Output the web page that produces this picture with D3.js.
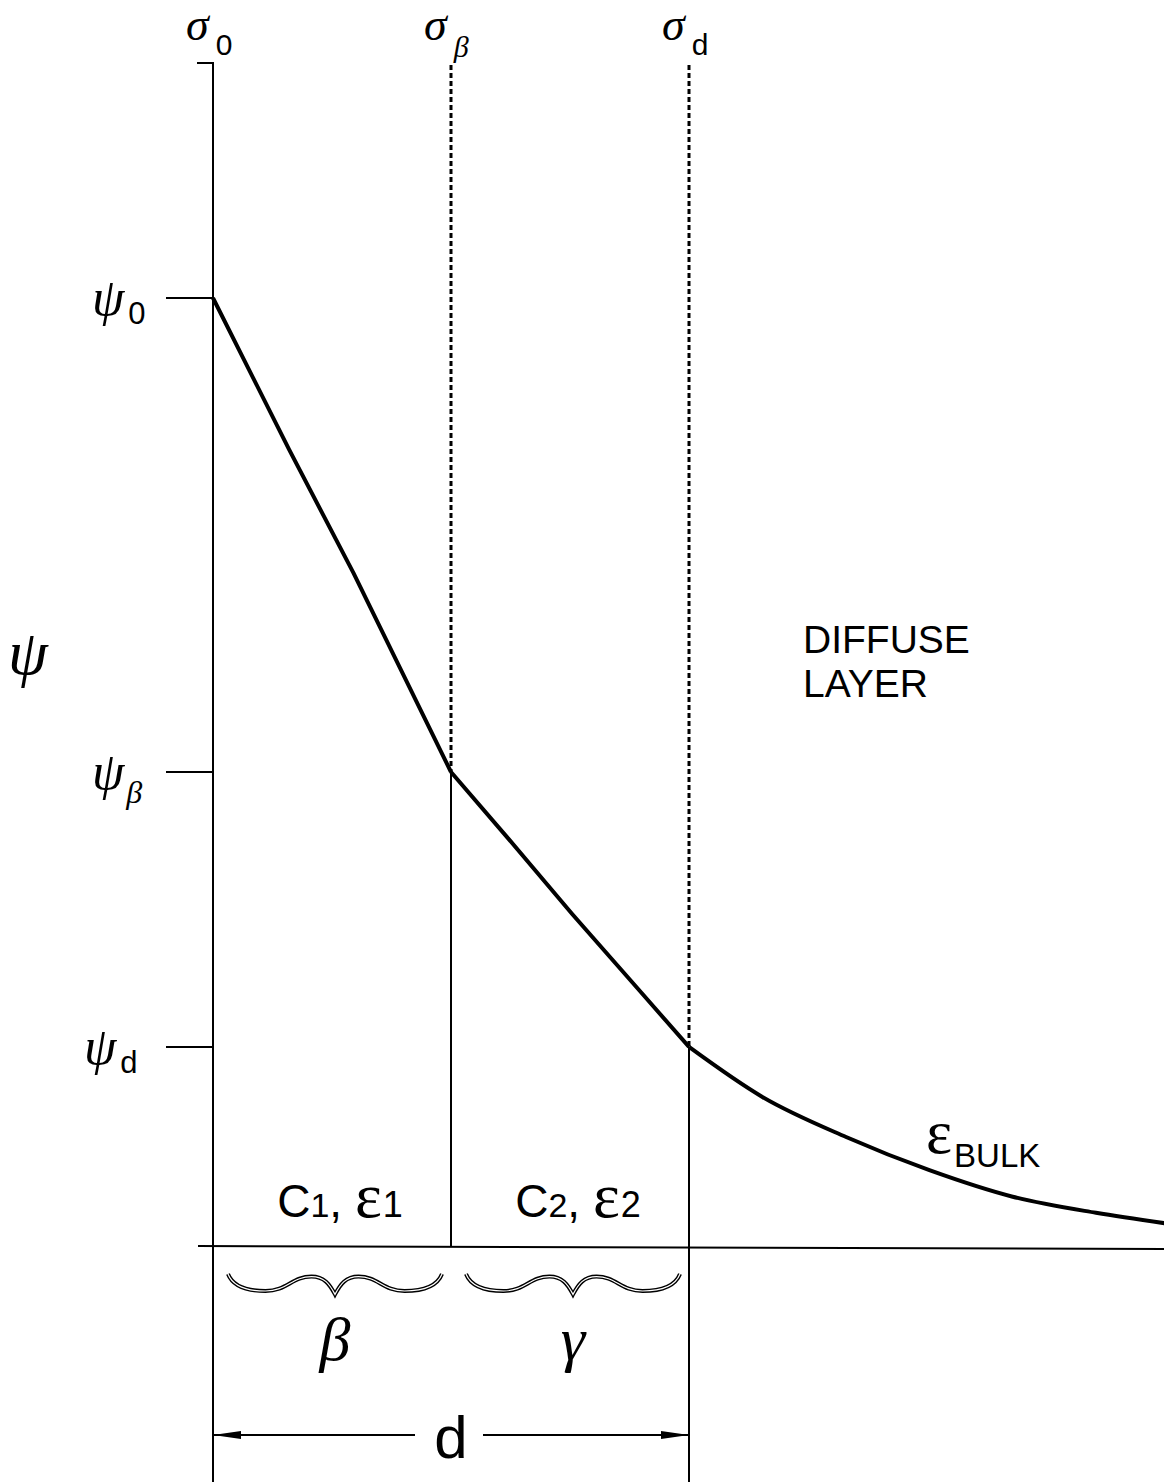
<!DOCTYPE html>
<html><head><meta charset="utf-8">
<style>body{margin:0;background:#fff}</style>
</head><body>
<div id="container"></div>
<script src="https://d3js.org/d3.v7.min.js"></script>
<script>
// charge planes: name, distance from surface, potential
var planeNames = ["0", "β", "d"];
var planePos = [0, 1, 2];
var planePsi = [1.0, 0.50, 0.21];

// potential profile, one list per region
var innerDist = [0, 0.32, 0.59, 1.0];
var innerPsi = [1.0, 0.84, 0.71, 0.50];
var outerDist = [1.0, 1.24, 1.51, 1.79, 2.0];
var outerPsi = [0.50, 0.43, 0.35, 0.27, 0.21];
var diffuseDist = [2.0, 2.31, 2.66, 3.01, 3.36, 3.71, 4.0];
var diffusePsi = [0.21, 0.157, 0.115, 0.080, 0.052, 0.035, 0.024];

// labels of the two compact layers
var layerC = ["C", "C"];
var layerSub = ["1", "2"];
var braceLabels = ["β", "γ"];

var W = 1164, H = 1482;
var greek = "'Liberation Serif', 'Times New Roman', serif";
var sans = "'Liberation Sans', Arial, sans-serif";

var svg = d3.select("#container").append("svg")
  .attr("width", W).attr("height", H)
  .style("display", "block");

var x = d3.scaleLinear().domain([0, 4]).range([213, 1165]);
var y = d3.scaleLinear().domain([0, 1]).range([1246, 298]);

var yTop = 63, yBottom = H;

// left surface line + small hook at top
svg.append("path")
  .attr("d", "M" + (x(0) - 16) + "," + yTop + "H" + x(0) + "V" + yBottom)
  .attr("fill", "none").attr("stroke", "#000").attr("stroke-width", 2);

// dashed part of the planes above the curve
svg.selectAll(".dash").data(planePos.slice(1)).enter().append("line")
  .attr("x1", function(d) { return x(d); })
  .attr("x2", function(d) { return x(d); })
  .attr("y1", yTop + 2)
  .attr("y2", function(d, i) { return y(planePsi[i + 1]); })
  .attr("stroke", "#000").attr("stroke-width", 3)
  .attr("stroke-dasharray", "5,3");

// solid part below the curve
svg.append("line")
  .attr("x1", x(planePos[1])).attr("x2", x(planePos[1]))
  .attr("y1", y(planePsi[1])).attr("y2", y(0))
  .attr("stroke", "#000").attr("stroke-width", 2);
svg.append("line")
  .attr("x1", x(planePos[2])).attr("x2", x(planePos[2]))
  .attr("y1", y(planePsi[2])).attr("y2", yBottom)
  .attr("stroke", "#000").attr("stroke-width", 2);

// baseline (psi = 0)
svg.append("line")
  .attr("x1", 198).attr("x2", W)
  .attr("y1", y(0)).attr("y2", y(0) + 3)
  .attr("stroke", "#000").attr("stroke-width", 2);

// psi ticks
svg.selectAll(".tick").data(planePsi).enter().append("line")
  .attr("x1", x(0) - 47).attr("x2", x(0))
  .attr("y1", function(d) { return y(d); })
  .attr("y2", function(d) { return y(d); })
  .attr("stroke", "#000").attr("stroke-width", 2);

// psi labels
planePsi.forEach(function(p, i) {
  var t = svg.append("text")
    .attr("x", i == 2 ? 84 : 92).attr("y", y(p) + 17)
    .style("font-family", greek).style("font-style", "italic")
    .style("font-size", "52px").text("ψ");
  var s = t.append("tspan").attr("dx", i == 1 ? 2 : 4).attr("dy", i == 1 ? 14 : 9)
    .style("font-size", i == 1 ? "32px" : "31px")
    .text(planeNames[i]);
  if (i != 1) s.style("font-family", sans).style("font-style", "normal");
});

// sigma labels on top
planePos.forEach(function(p, i) {
  var t = svg.append("text")
    .attr("x", x(p) - 27).attr("y", 40)
    .style("font-family", greek).style("font-style", "italic")
    .style("font-size", "46px").text("σ");
  var s = t.append("tspan").attr("dx", 7).attr("dy", i == 1 ? 17 : 15)
    .style("font-size", "30px").text(planeNames[i]);
  if (i != 1) s.style("font-family", sans).style("font-style", "normal");
});

// big psi axis label
svg.append("text").attr("x", 8).attr("y", 674)
  .style("font-family", greek).style("font-style", "italic")
  .style("font-size", "64px").text("ψ");

// potential profile
var straight = d3.line()
  .x(function(d) { return x(d[0]); })
  .y(function(d) { return y(d[1]); });
var smooth = d3.line()
  .x(function(d) { return x(d[0]); })
  .y(function(d) { return y(d[1]); })
  .curve(d3.curveMonotoneX);
[[innerDist, innerPsi, straight], [outerDist, outerPsi, straight], [diffuseDist, diffusePsi, smooth]].forEach(function(s) {
  svg.append("path")
    .datum(d3.zip(s[0], s[1]))
    .attr("d", s[2])
    .attr("fill", "none").attr("stroke", "#000").attr("stroke-width", 4)
    .attr("stroke-linejoin", "round");
});

// diffuse layer labels
svg.append("text").attr("x", 803).attr("y", 653)
  .style("font-family", sans).style("font-size", "39px").text("DIFFUSE");
svg.append("text").attr("x", 803).attr("y", 697)
  .style("font-family", sans).style("font-size", "39px").text("LAYER");
var eb = svg.append("text").attr("x", 926).attr("y", 1153)
  .style("font-family", greek).style("font-size", "62px").text("ε");
eb.append("tspan").attr("dx", 2).attr("dy", 14)
  .style("font-family", sans).style("font-size", "33px").text("BULK");

// compact layer labels
layerC.forEach(function(c, i) {
  var cx = (x(planePos[i]) + x(planePos[i + 1])) / 2 + 8;
  var t = svg.append("text").attr("x", cx).attr("y", 1217)
    .attr("text-anchor", "middle")
    .style("font-family", sans).style("font-size", "46px");
  t.append("tspan").text(c);
  t.append("tspan").style("font-size", "34px").text(layerSub[i]);
  t.append("tspan").text(", ");
  t.append("tspan").style("font-family", greek).style("font-size", "64px").text("ε");
  t.append("tspan").style("font-size", "36px").attr("dx", 1).text(layerSub[i]);
});

// braces under each compact layer
function brace(x0, x1, y0, D) {
  var h = (x1 - x0) / 2, xm = x0 + h;
  var p = "M" + x0 + "," + y0;
  p += "C" + (x0 + 0.05 * h) + "," + (y0 + 0.8 * D) + " " + (x0 + 0.2 * h) + "," + (y0 + D) + " " + (x0 + 0.35 * h) + "," + (y0 + D);
  p += "C" + (x0 + 0.55 * h) + "," + (y0 + D) + " " + (x0 + 0.6 * h) + "," + (y0 + 0.15 * D) + " " + (x0 + 0.78 * h) + "," + (y0 + 0.15 * D);
  p += "C" + (x0 + 0.9 * h) + "," + (y0 + 0.15 * D) + " " + (x0 + 0.95 * h) + "," + (y0 + 0.6 * D) + " " + xm + "," + (y0 + 1.2 * D);
  p += "C" + (x1 - 0.95 * h) + "," + (y0 + 0.6 * D) + " " + (x1 - 0.9 * h) + "," + (y0 + 0.15 * D) + " " + (x1 - 0.78 * h) + "," + (y0 + 0.15 * D);
  p += "C" + (x1 - 0.6 * h) + "," + (y0 + 0.15 * D) + " " + (x1 - 0.55 * h) + "," + (y0 + D) + " " + (x1 - 0.35 * h) + "," + (y0 + D);
  p += "C" + (x1 - 0.2 * h) + "," + (y0 + D) + " " + (x1 - 0.05 * h) + "," + (y0 + 0.8 * D) + " " + x1 + "," + y0;
  return p;
}
braceLabels.forEach(function(b, i) {
  var x0 = x(planePos[i]) + 15, x1 = x(planePos[i + 1]) - 9;
  var d = brace(x0, x1, 1274, 17);
  svg.append("path").attr("d", d).attr("fill", "none")
    .attr("stroke", "#000").attr("stroke-width", 4);
  svg.append("path").attr("d", d).attr("fill", "none")
    .attr("stroke", "#fff").attr("stroke-width", 1.2);
  svg.append("text").attr("x", (x0 + x1) / 2).attr("y", 1360)
    .attr("text-anchor", "middle")
    .style("font-family", greek).style("font-style", "italic")
    .style("font-size", "62px").text(b);
});

// dimension d
var ay = 1435, xa = x(planePos[0]), xb = x(planePos[2]);
svg.append("line").attr("x1", xa).attr("x2", 415).attr("y1", ay).attr("y2", ay)
  .attr("stroke", "#000").attr("stroke-width", 2);
svg.append("line").attr("x1", 483).attr("x2", xb).attr("y1", ay).attr("y2", ay)
  .attr("stroke", "#000").attr("stroke-width", 2);
svg.append("path").attr("d", "M" + xa + "," + ay + "L" + (xa + 28) + "," + (ay - 4) + "L" + (xa + 28) + "," + (ay + 4) + "Z");
svg.append("path").attr("d", "M" + xb + "," + ay + "L" + (xb - 28) + "," + (ay - 4) + "L" + (xb - 28) + "," + (ay + 4) + "Z");
svg.append("text").attr("x", (xa + xb) / 2).attr("y", 1458)
  .attr("text-anchor", "middle")
  .style("font-family", sans).style("font-size", "60px").text("d");
</script>
</body></html>
